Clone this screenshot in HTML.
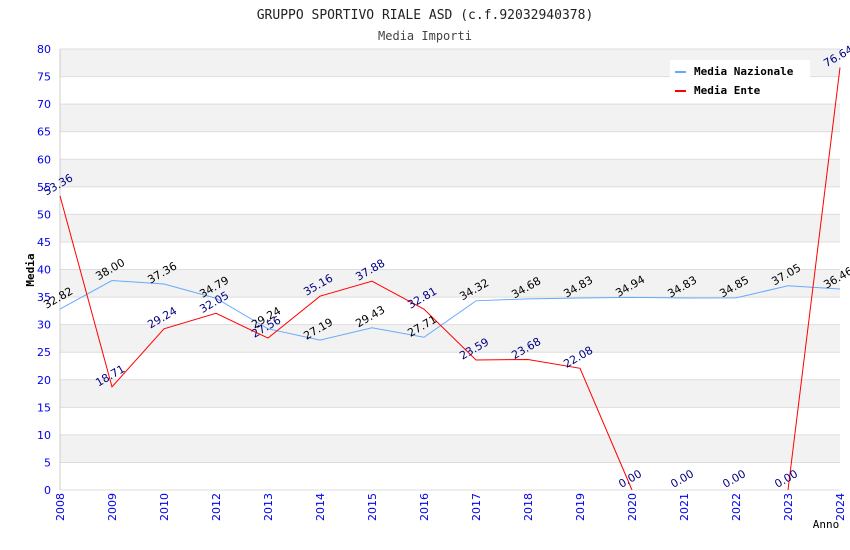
<!DOCTYPE html>
<html><head><meta charset="utf-8"><style>
body{margin:0;background:#fff}
svg{display:block}
text{font-family:"DejaVu Sans","Liberation Sans",sans-serif}
.mono{font-family:"DejaVu Sans Mono","Liberation Mono",monospace}
</style></head><body>
<svg id="c" width="850" height="550" xmlns="http://www.w3.org/2000/svg">
<text class="mono" x="425" y="19" text-anchor="middle" font-size="13" fill="#222">GRUPPO SPORTIVO RIALE ASD (c.f.92032940378)</text>
<text class="mono" x="425" y="40" text-anchor="middle" font-size="12" fill="#444">Media Importi</text>
<g id="grid"></g>
<g id="series"></g>
<g id="labels"></g>
<text class="mono" x="34" y="270" text-anchor="middle" font-size="11" font-weight="bold" fill="#000" transform="rotate(-90 34 270)">Media</text>
<text class="mono" x="826" y="528" text-anchor="middle" font-size="11" fill="#000">Anno</text>
<g>
<rect x="670" y="60" width="140" height="42" fill="#fff"/>
<line x1="675" y1="72" x2="686" y2="72" stroke="#66aaff" stroke-width="2"/>
<text class="mono" x="694" y="75" font-size="11" font-weight="bold" fill="#000">Media Nazionale</text>
<line x1="675" y1="91" x2="686" y2="91" stroke="#ff0000" stroke-width="2"/>
<text class="mono" x="694" y="94" font-size="11" font-weight="bold" fill="#000">Media Ente</text>
</g>
</svg>
<script>
const categories=["2008","2009","2010","2012","2013","2014","2015","2016","2017","2018","2019","2020","2021","2022","2023","2024"];
const nazionale=[32.82,38.00,37.36,34.79,29.24,27.19,29.43,27.71,34.32,34.68,34.83,34.94,34.83,34.85,37.05,36.46];
const ente=[53.36,18.71,29.24,32.05,27.56,35.16,37.88,32.81,23.59,23.68,22.08,0,null,null,0,76.64];
const enteLabels=["53.36","18.71","29.24","32.05","27.56","35.16","37.88","32.81","23.59","23.68","22.08","0.00","0.00","0.00","0.00","76.64"];
const yTicks=[0,5,10,15,20,25,30,35,40,45,50,55,60,65,70,75,80];
const X0=60,X1=840,Y0=490,Y1=49,YMAX=80;
const NS="http://www.w3.org/2000/svg";
const xs=i=>X0+i*(X1-X0)/(categories.length-1);
const ys=v=>Y0-v*(Y0-Y1)/YMAX;
function mk(t,a,p){const e=document.createElementNS(NS,t);for(const k in a)e.setAttribute(k,a[k]);p.appendChild(e);return e;}
const grid=document.getElementById('grid'),ser=document.getElementById('series'),lab=document.getElementById('labels');
for(let i=0;i<yTicks.length-1;i++){
 if(i%2===1){const r=mk('rect',{x:X0,y:ys(yTicks[i+1]),width:X1-X0,height:ys(yTicks[i])-ys(yTicks[i+1]),fill:'#f2f2f2'},grid);
 
 }
}
yTicks.forEach(v=>{
 const l=mk('line',{x1:X0,x2:X1,y1:ys(v),y2:ys(v),stroke:'#dddddd','stroke-width':1},grid);
 
 
 const t=mk('text',{x:51,y:ys(v)+4,'text-anchor':'end','font-size':11,fill:'#0000ee'},grid);
 t.textContent=v;
 
 
});
const ax=mk('line',{x1:X0,x2:X0,y1:Y1,y2:Y0,stroke:'#cccccc'},grid);


categories.forEach((c,i)=>{
 const x=xs(i)+4,y=493;
 const t=mk('text',{x:x,y:y,'text-anchor':'end','font-size':11,fill:'#0000ee',transform:`rotate(-90 ${x} ${y})`},grid);
 t.textContent=c;
 
 
});
const pn=nazionale.map((v,i)=>xs(i)+','+ys(v)).join(' ');
const l1=mk('polyline',{points:pn,fill:'none',stroke:'#66aaff','stroke-width':1},ser);


let d='';
ente.forEach((v,i)=>{
 if(v===null)return;
 const cmd=(i>0&&ente[i-1]!==null)?'L':'M';
 d+=cmd+xs(i)+' '+ys(v)+' ';
});
const l2=mk('path',{d:d,fill:'none',stroke:'#ff0000','stroke-width':1},ser);


function label(x,y,txt,col,name){
 const t=mk('text',{x:x,y:y,'text-anchor':'middle','font-size':11,fill:col,transform:`rotate(-30 ${x} ${y})`},lab);
 t.textContent=txt;
 
 
}
nazionale.forEach((v,i)=>label(xs(i),ys(v)-8,v.toFixed(2),'#000','label-nazionale'));
enteLabels.forEach((s,i)=>label(xs(i),ys(ente[i]===null?0:ente[i])-8,s,'#000080','label-ente'));
</script>
</body></html>
